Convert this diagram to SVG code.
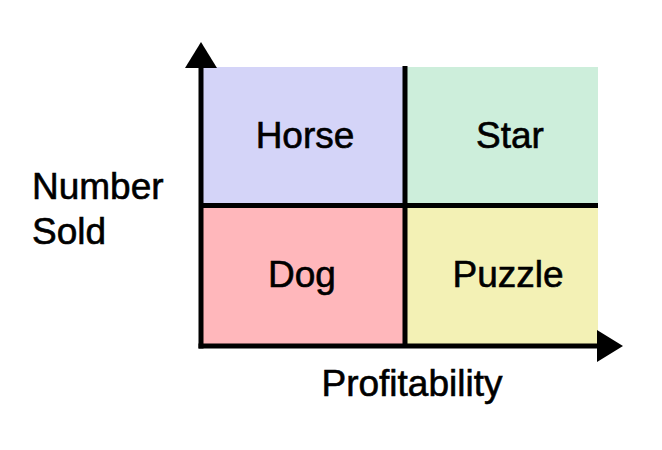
<svg xmlns="http://www.w3.org/2000/svg" width="662" height="450" viewBox="0 0 662 450">
<style>
.lbl{font-family:"Liberation Sans",Arial,Helvetica,sans-serif;font-size:37px;fill:#000;stroke:#000;stroke-width:0.6;}
.mid{text-anchor:middle;}
.ln{stroke:#000;stroke-width:5;fill:none;}
</style>
<defs>
<marker id="ah" viewBox="0 0 26 32" refX="0" refY="16" markerWidth="26" markerHeight="32" markerUnits="userSpaceOnUse" orient="auto">
<path d="M0,0 L26,16 L0,32 Z" fill="#000"/>
</marker>
</defs>
<rect width="662" height="450" fill="#fff"/>
<g id="horse"><rect x="203" y="67" width="200" height="137" fill="#d4d4f8"/><text class="lbl mid" x="305" y="148">Horse</text></g>
<g id="star"><rect x="407" y="67" width="191" height="137" fill="#cdeedb"/><text class="lbl mid" x="510" y="148">Star</text></g>
<g id="dog"><rect x="203" y="207" width="200" height="137" fill="#ffb7bb"/><text class="lbl mid" x="302" y="287">Dog</text></g>
<g id="puzzle"><rect x="407" y="207" width="191" height="137" fill="#f3f1b5"/><text class="lbl mid" x="508" y="287">Puzzle</text></g>
<g id="connectors">
<line class="ln" x1="405" y1="66" x2="405" y2="346"/>
<line class="ln" x1="200" y1="205.5" x2="598" y2="205.5"/>
<line class="ln" x1="201" y1="348.5" x2="201" y2="68" marker-end="url(#ah)"/>
<line class="ln" x1="198.5" y1="346" x2="597" y2="346" marker-end="url(#ah)"/>
</g>
<g id="labels">
<text class="lbl" x="32" y="199">Number</text>
<text class="lbl" x="32" y="244">Sold</text>
<text class="lbl mid" x="412" y="396">Profitability</text>
</g>
</svg>
